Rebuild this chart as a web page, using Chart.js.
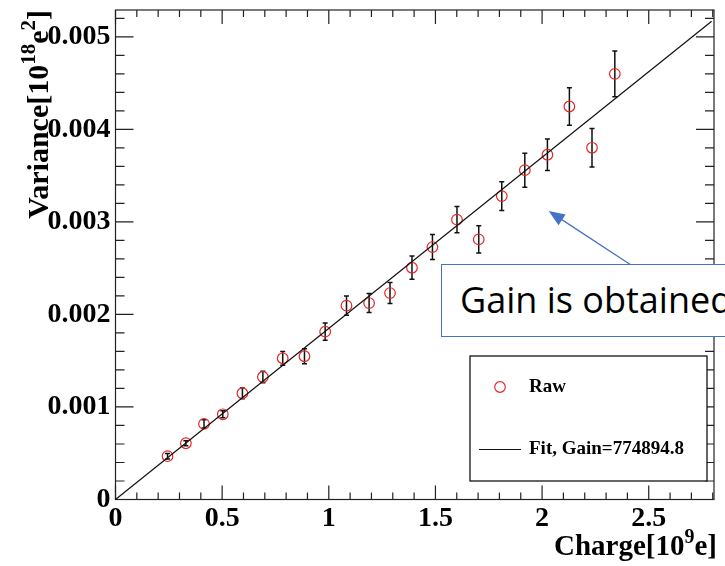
<!DOCTYPE html>
<html lang="en">
<head>
    <meta charset="UTF-8">
    <title>Variance vs Charge</title>
    <script src="https://cdn.jsdelivr.net/npm/chart.js"></script>
    <style>
        html, body { margin: 0; padding: 0; background: #fff; overflow: hidden; }
        #wrap { position: relative; width: 725px; height: 566px; overflow: hidden; }
        #callout {
            position: absolute; left: 441px; top: 264px; width: 330px; height: 73px;
            box-sizing: border-box; border: 1.6px solid #4472c4; background: #fff;
            font-family: "Open Sans", sans-serif; font-size: 36px; line-height: 70px;
            padding-left: 18px; color: #000; white-space: nowrap;
        }
    </style>
</head>
<body>
<div id="wrap">
    <canvas id="gainChart" width="725" height="566"></canvas>
    <div id="callout">Gain is obtained</div>
</div>

<script>
    // measured points: charge [1e9 e], variance [1e18 e^2] and its error
    const charge = [0.244, 0.330, 0.415, 0.503, 0.595, 0.691, 0.784, 0.886, 0.983, 1.083, 1.189,
                    1.287, 1.390, 1.486, 1.601, 1.703, 1.811, 1.919, 2.025, 2.128, 2.234, 2.341];
    const variance = [0.000468, 0.000608, 0.000817, 0.000921, 0.001148, 0.001324, 0.001526, 0.001548,
                      0.001814, 0.002095, 0.002123, 0.002231, 0.002505, 0.002728, 0.003024, 0.002811,
                      0.003279, 0.003559, 0.003726, 0.004247, 0.003801, 0.004600];
    const varianceErr = [0.000029, 0.000027, 0.000045, 0.000038, 0.000058, 0.000063, 0.000074, 0.000081,
                         0.000094, 0.000104, 0.000103, 0.000113, 0.000126, 0.000135, 0.000142, 0.000148,
                         0.000155, 0.000184, 0.000171, 0.000202, 0.000209, 0.000248];

    // linear fit drawn between its two end points
    const fitX = [0, 2.795];
    const fitY = [0, 0.005168];

    const xTickValues = [0, 0.5, 1, 1.5, 2, 2.5];
    const xTickLabels = ['0', '0.5', '1', '1.5', '2', '2.5'];
    const yTickValues = [0, 0.001, 0.002, 0.003, 0.004, 0.005];
    const yTickLabels = ['0', '0.001', '0.002', '0.003', '0.004', '0.005'];

    const legendLabels = ['Raw', 'Fit, Gain=774894.8'];

    const X_MAX = 2.806, Y_MAX = 0.00529;
    const X_MINOR = 0.1, Y_MINOR = 0.0002;
    const RED = 'rgb(228, 40, 40)';
    const SERIF = '"Liberation Serif", "Times New Roman", serif';

    // text with superscript pieces, e.g. [['Charge[10'], ['9', true], ['e]']]
    function richWidth(ctx, parts, size, supSize) {
        let w = 0;
        parts.forEach(([t, sup]) => {
            ctx.font = `bold ${sup ? supSize : size}px ${SERIF}`;
            w += ctx.measureText(t).width;
        });
        return w;
    }
    function drawRich(ctx, parts, x, y, size, supSize, rise) {
        let cx = x;
        parts.forEach(([t, sup]) => {
            ctx.font = `bold ${sup ? supSize : size}px ${SERIF}`;
            ctx.fillText(t, cx, sup ? y - rise : y);
            cx += ctx.measureText(t).width;
        });
    }

    // frame with inward ticks on all four sides, plus error bars
    const frameAndErrors = {
        id: 'frameAndErrors',
        beforeDatasetsDraw(chart) {
            const { ctx, chartArea: a, scales: { x, y } } = chart;
            ctx.save();
            ctx.strokeStyle = '#222';
            ctx.lineWidth = 1.2;
            ctx.strokeRect(a.left, a.top, a.right - a.left, a.bottom - a.top);

            ctx.beginPath();
            for (let i = 0; i * X_MINOR <= x.max + 1e-9; i++) {
                const px = x.getPixelForValue(i * X_MINOR);
                const len = i % 5 === 0 ? 14 : 7;
                ctx.moveTo(px, a.bottom); ctx.lineTo(px, a.bottom - len);
                ctx.moveTo(px, a.top); ctx.lineTo(px, a.top + len);
            }
            for (let i = 0; i * Y_MINOR <= y.max + 1e-12; i++) {
                const py = y.getPixelForValue(i * Y_MINOR);
                const len = i % 5 === 0 ? 18 : 9;
                ctx.moveTo(a.left, py); ctx.lineTo(a.left + len, py);
                ctx.moveTo(a.right, py); ctx.lineTo(a.right - len, py);
            }
            ctx.stroke();

            // error bars
            ctx.strokeStyle = '#111';
            ctx.lineWidth = 1.5;
            ctx.beginPath();
            charge.forEach((c, i) => {
                const px = x.getPixelForValue(c);
                const hi = y.getPixelForValue(variance[i] + varianceErr[i]);
                const lo = y.getPixelForValue(variance[i] - varianceErr[i]);
                ctx.moveTo(px, hi); ctx.lineTo(px, lo);
                ctx.moveTo(px - 2.5, hi); ctx.lineTo(px + 2.5, hi);
                ctx.moveTo(px - 2.5, lo); ctx.lineTo(px + 2.5, lo);
            });
            ctx.stroke();
            ctx.restore();
        },
        afterDraw(chart) {
            const { ctx, chartArea: a, scales: { x, y } } = chart;
            ctx.save();
            ctx.fillStyle = '#000';
            ctx.textBaseline = 'alphabetic';

            // axis titles
            const xTitle = [['Charge[10'], ['9', true], ['e]']];
            const wx = richWidth(ctx, xTitle, 29, 20);
            drawRich(ctx, xTitle, 717 - wx, 555, 29, 20, 12);

            const yTitle = [['Variance[10'], ['18', true], ['e'], ['2', true], [']']];
            const wy = richWidth(ctx, yTitle, 30, 21);
            ctx.save();
            ctx.translate(47.5, a.top);
            ctx.rotate(-Math.PI / 2);
            drawRich(ctx, yTitle, -wy, 0, 30, 21, 13);
            ctx.restore();

            // legend box
            const lx = 470, ly = 356, lw = 237, lh = 125;
            ctx.fillStyle = '#fff';
            ctx.fillRect(lx, ly, lw, lh);
            ctx.strokeStyle = '#000';
            ctx.lineWidth = 1.2;
            ctx.strokeRect(lx, ly, lw, lh);

            ctx.strokeStyle = RED;
            ctx.beginPath();
            ctx.arc(lx + 30, ly + 31, 5.3, 0, Math.PI * 2);
            ctx.stroke();

            ctx.strokeStyle = '#111';
            ctx.beginPath();
            ctx.moveTo(lx + 9, ly + 93.5); ctx.lineTo(lx + 51, ly + 93.5);
            ctx.stroke();

            ctx.fillStyle = '#000';
            ctx.font = `bold 19px ${SERIF}`;
            ctx.textBaseline = 'middle';
            ctx.fillText(legendLabels[0], lx + 59, ly + 31);
            ctx.fillText(legendLabels[1], lx + 59, ly + 93.5);

            // arrow from the callout box to the fit line region
            const tipX = x.getPixelForValue(2.031), tipY = y.getPixelForValue(0.003117);
            const tailX = 631, tailY = 265;
            const ang = Math.atan2(tipY - tailY, tipX - tailX);
            ctx.strokeStyle = '#4472c4';
            ctx.fillStyle = '#4472c4';
            ctx.lineWidth = 1.3;
            ctx.beginPath();
            ctx.moveTo(tailX, tailY);
            ctx.lineTo(tipX - 12 * Math.cos(ang), tipY - 12 * Math.sin(ang));
            ctx.stroke();
            ctx.beginPath();
            ctx.moveTo(tipX, tipY);
            ctx.lineTo(tipX - 16 * Math.cos(ang) + 6.5 * Math.sin(ang), tipY - 16 * Math.sin(ang) - 6.5 * Math.cos(ang));
            ctx.lineTo(tipX - 16 * Math.cos(ang) - 6.5 * Math.sin(ang), tipY - 16 * Math.sin(ang) + 6.5 * Math.cos(ang));
            ctx.closePath();
            ctx.fill();
            ctx.restore();
        }
    };

    new Chart(document.getElementById('gainChart'), {
        type: 'scatter',
        data: {
            datasets: [
                {
                    label: legendLabels[0],
                    data: charge.map((c, i) => ({ x: c, y: variance[i] })),
                    pointStyle: 'circle',
                    pointRadius: 5.3,
                    pointBorderWidth: 1.2,
                    borderColor: RED,
                    backgroundColor: 'rgba(0,0,0,0)',
                    order: 2
                },
                {
                    type: 'line',
                    label: legendLabels[1],
                    data: fitX.map((v, i) => ({ x: v, y: fitY[i] })),
                    borderColor: '#111',
                    borderWidth: 1.2,
                    pointRadius: 0,
                    fill: false,
                    order: 1
                }
            ]
        },
        options: {
            responsive: false,
            animation: false,
            layout: { padding: { left: 0, top: 10, right: 11, bottom: 0 } },
            plugins: { legend: { display: false }, tooltip: { enabled: false } },
            scales: {
                x: {
                    type: 'linear', min: 0, max: X_MAX,
                    grid: { display: false, drawTicks: false },
                    border: { display: false },
                    afterBuildTicks: (s) => { s.ticks = xTickValues.map(v => ({ value: v })); },
                    afterFit: (s) => { s.height = 66.5; s.paddingLeft = 0; s.paddingRight = 0; },
                    ticks: {
                        padding: 2,
                        maxRotation: 0,
                        color: '#000',
                        font: { family: SERIF, size: 28, weight: 'bold' },
                        callback: (v, i) => xTickLabels[i]
                    }
                },
                y: {
                    type: 'linear', min: 0, max: Y_MAX,
                    grid: { display: false, drawTicks: false },
                    border: { display: false },
                    afterBuildTicks: (s) => { s.ticks = yTickValues.map(v => ({ value: v })); },
                    afterFit: (s) => { s.width = 115.5; s.paddingTop = 0; s.paddingBottom = 0; },
                    ticks: {
                        padding: 5,
                        color: '#000',
                        font: { family: SERIF, size: 28, weight: 'bold' },
                        callback: (v, i) => yTickLabels[i]
                    }
                }
            }
        },
        plugins: [frameAndErrors]
    });
</script>
</body>
</html>
